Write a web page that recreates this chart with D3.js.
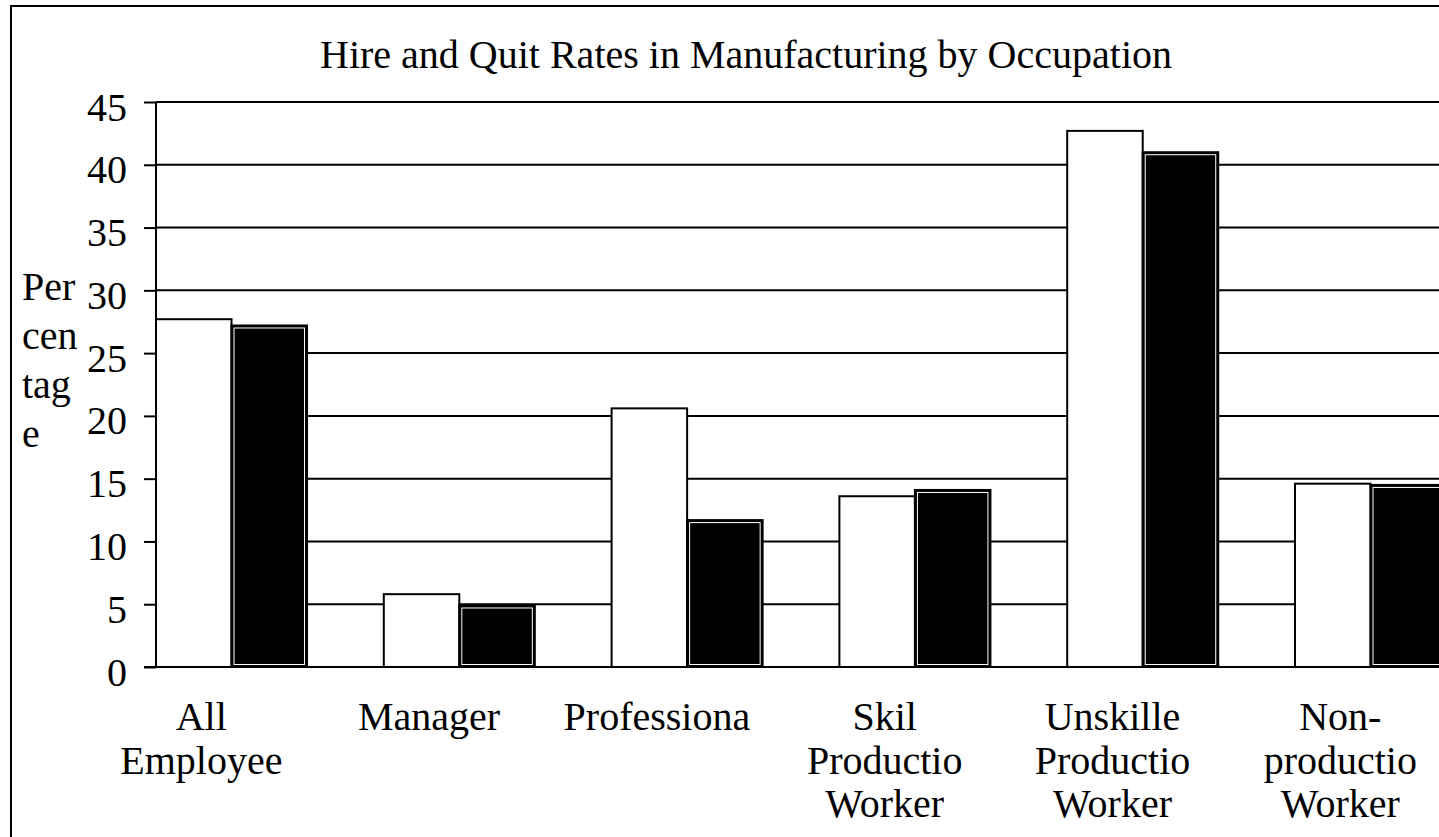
<!DOCTYPE html>
<html>
<head>
<meta charset="utf-8">
<script src="https://cdn.jsdelivr.net/npm/d3@7"></script>
<style>
  body { margin: 0; background: #fff; }
  svg { display: block; }
  text { font-family: "Liberation Serif", "Times New Roman", serif; fill: #000; }
</style>
</head>
<body>
<div id="chart"></div>
<script>
// chart data
const categories = ["All Employee", "Manager", "Professiona", "Skil Productio Worker", "Unskille Productio Worker", "Non-productio Worker"];
const categoryLines = [["All", "Employee"], ["Manager"], ["Professiona"], ["Skil", "Productio", "Worker"], ["Unskille", "Productio", "Worker"], ["Non-", "productio", "Worker"]];
const hireRates = [27.7, 5.8, 20.6, 13.6, 42.7, 14.6];
const quitRates = [27.2, 4.9, 11.7, 14.1, 41.0, 14.5];
const yTicks = [0, 5, 10, 15, 20, 25, 30, 35, 40, 45];
const yTitleLines = ["Per", "cen", "tag", "e"];
const chartTitle = "Hire and Quit Rates in Manufacturing by Occupation";

const W = 1439, H = 837;
// plot area (the chart runs off the right edge of the window)
const plotLeft = 156, plotTop = 102, plotBottom = 667;
const step = 227.8;

const svg = d3.select("#chart").append("svg")
    .attr("width", W)
    .attr("height", H);

// outer frame
svg.append("rect")
    .attr("x", 11).attr("y", 6)
    .attr("width", W + 50).attr("height", H + 50)
    .attr("fill", "none")
    .attr("stroke", "#000")
    .attr("stroke-width", 2);

// scales
let x = d3.scaleBand()
    .domain(categories)
    .range([plotLeft, plotLeft + step * categories.length])
    .paddingInner(0.337)
    .paddingOuter(0.337 / 2)
    .align(0);

let xSub = d3.scaleBand()
    .domain(["hire", "quit"])
    .range([0, x.bandwidth()]);

let y = d3.scaleLinear()
    .domain([0, 45])
    .range([plotBottom, plotTop]);

// title
svg.append("text")
    .attr("x", 746)
    .attr("y", 68)
    .attr("text-anchor", "middle")
    .style("font-size", "40px")
    .text(chartTitle);

// gridlines
svg.append("g")
    .selectAll("line")
    .data(yTicks)
    .enter()
    .append("line")
    .attr("x1", plotLeft)
    .attr("x2", W + 10)
    .attr("y1", d => y(d))
    .attr("y2", d => y(d))
    .attr("stroke", "#000")
    .attr("stroke-width", 2);

// y axis with ticks and labels
const axeY = d3.axisLeft(y)
    .tickValues(yTicks)
    .tickSize(12)
    .tickPadding(17);

const groupeY = svg.append("g")
    .attr("transform", `translate(${plotLeft},0)`)
    .call(axeY);
groupeY.select(".domain")
    .attr("stroke", "#000")
    .attr("stroke-width", 2)
    .attr("d", `M0,${plotTop}V${plotBottom}`);
groupeY.selectAll(".tick line")
    .attr("stroke", "#000")
    .attr("stroke-width", 2);
groupeY.selectAll(".tick text")
    .attr("dy", "0.45em")
    .style("font-size", "40px")
    .style("font-family", '"Liberation Serif", "Times New Roman", serif');

// bars
const groups = svg.append("g")
    .selectAll("g")
    .data(categories)
    .enter()
    .append("g")
    .attr("transform", d => `translate(${x(d)},0)`);

// hire = white bars
groups.append("rect")
    .attr("x", xSub("hire"))
    .attr("y", (d, i) => y(hireRates[i]))
    .attr("width", xSub.bandwidth())
    .attr("height", (d, i) => y(0) - y(hireRates[i]))
    .attr("fill", "#fff")
    .attr("stroke", "#000")
    .attr("stroke-width", 2);

// quit = black bars, with the thin white inner edge
groups.append("rect")
    .attr("x", xSub("quit"))
    .attr("y", (d, i) => y(quitRates[i]))
    .attr("width", xSub.bandwidth())
    .attr("height", (d, i) => y(0) - y(quitRates[i]))
    .attr("fill", "#000")
    .attr("stroke", "#000")
    .attr("stroke-width", 2);

groups.append("rect")
    .attr("x", xSub("quit") + 2.5)
    .attr("y", (d, i) => y(quitRates[i]) + 2.5)
    .attr("width", xSub.bandwidth() - 5)
    .attr("height", (d, i) => y(0) - y(quitRates[i]) - 5)
    .attr("fill", "none")
    .attr("stroke", "#fff")
    .attr("stroke-width", 1);

// zero line on top
svg.append("line")
    .attr("x1", plotLeft - 12)
    .attr("x2", W + 10)
    .attr("y1", y(0))
    .attr("y2", y(0))
    .attr("stroke", "#000")
    .attr("stroke-width", 2);

// category labels
const labels = svg.append("g")
    .selectAll("text")
    .data(categories)
    .enter()
    .append("text")
    .attr("text-anchor", "middle")
    .style("font-size", "40px");

labels.each(function(d, i) {
    let cx = x(d) + x.bandwidth() * 0.3;
    d3.select(this).selectAll("tspan")
        .data(categoryLines[i])
        .enter()
        .append("tspan")
        .attr("x", cx)
        .attr("y", (t, j) => 730 + j * 43.5)
        .text(t => t);
});

// y axis title, broken over lines like the original
svg.append("text")
    .style("font-size", "40px")
    .selectAll("tspan")
    .data(yTitleLines)
    .enter()
    .append("tspan")
    .attr("x", 22)
    .attr("y", (t, j) => 300 + j * 49)
    .text(t => t);
</script>
</body>
</html>
